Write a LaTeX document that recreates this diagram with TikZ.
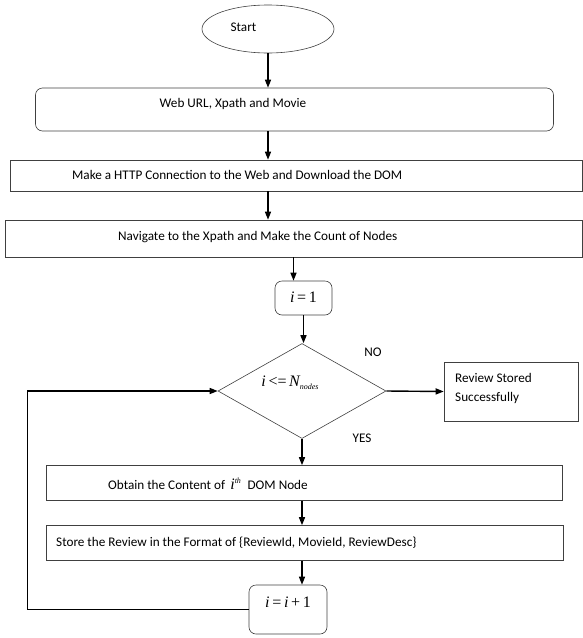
\documentclass[tikz,border=0pt]{standalone}
\usepackage{fontspec}
\setmainfont{Carlito}
\newfontfamily\tnr{Liberation Serif}
\usetikzlibrary{shapes.geometric,arrows.meta,calc}
\newcommand{\mi}[1]{{\tnr\itshape #1}}
\newcommand{\mr}[1]{{\tnr #1}}
\begin{document}
\begin{tikzpicture}[x=1pt,y=-1pt,
  box/.style={draw=black!75,line width=0.6pt,inner sep=0pt},
  rbox/.style={box,rounded corners=7pt},
  txt/.style={inner sep=0pt,font=\fontsize{13.2}{15}\selectfont},
  mth/.style={inner sep=0pt,font=\fontsize{16}{18}\selectfont},
  conn/.style={line width=1.4pt,-{Triangle[length=8pt,width=6pt]}}]
\useasboundingbox (0,0) rectangle (582,638);
% shapes
\node[ellipse,box,minimum width=132pt,minimum height=48pt] (start) at (268,29) {};
\node[rbox,minimum width=518pt,minimum height=43pt] (b1) at (294.5,109.5) {};
\node[box,minimum width=572pt,minimum height=31pt] (b2) at (296,175.5) {};
\node[box,minimum width=577pt,minimum height=37pt] (b3) at (293.5,238.5) {};
\node[rbox,minimum width=57pt,minimum height=34pt] (i1) at (303.5,298) {};
\node[diamond,box,minimum width=168pt,minimum height=95pt,aspect=1.77] (dia) at (302,391) {};
\node[box,minimum width=134pt,minimum height=59pt] (rev) at (511,391.5) {};
\node[box,minimum width=516pt,minimum height=35pt] (ob) at (304,483) {};
\node[box,minimum width=517pt,minimum height=35pt] (st) at (304.5,543) {};
\node[rbox,minimum width=78pt,minimum height=49pt] (inc) at (288,609.5) {};
\coordinate (lc) at (27,391);
% texts
\node[txt] (tstart) at (243.5,27) {Start};
\node[txt] (t1) at (233,104) {Web URL, Xpath and Movie};
\node[txt,anchor=west] (t2) at (72,175) {Make a HTTP Connection to the Web and Download the DOM};
\node[txt,anchor=west] (t3) at (118,237) {Navigate to the Xpath and Make the Count of Nodes};
\node[mth] (ti1) at (303.5,297) {\mi{i}\,\mr{=}\,\mr{1}};
\node[mth] (tdia) at (290,383) {\mi{i}\,\mr{<=}\,\mi{N}\raisebox{-3pt}{\fontsize{8}{8}\selectfont\mi{nodes}}};
\node[txt] (tno) at (373,352) {NO};
\node[txt] (tyes) at (362,438) {YES};
\node[txt,anchor=west,align=left] (trev) at (455,388) {Review Stored\\[4pt]Successfully};
\node[txt,anchor=west] (tob) at (108,484) {Obtain the Content of \,{\fontsize{16}{18}\selectfont\mi{i}}\raisebox{6pt}{\fontsize{8}{8}\selectfont\mi{th}}\; DOM Node};
\node[txt,anchor=west] (tst) at (56,543) {Store the Review in the Format of \{ReviewId, MovieId, ReviewDesc\}};
\node[mth] (tinc) at (288,602) {\mi{i}\,\mr{=}\,\mi{i}\,\mr{+}\,\mr{1}};
% connectors
\draw[conn] (start.south) -- (start.south |- b1.north);
\draw[conn] (start.south |- b1.south) -- (start.south |- b2.north);
\draw[conn] (start.south |- b2.south) -- (start.south |- b3.north);
\draw[conn] (b3.south) -- (b3.south |- i1.north);
\draw[conn] (i1.south) -- (i1.south |- dia.north);
\draw[conn] (dia.east) -- (rev.west);
\draw[conn] (dia.south) -- (dia.south |- ob.north);
\draw[conn] (dia.south |- ob.south) -- (dia.south |- st.north);
\draw[conn] (dia.south |- st.south) -- (dia.south |- inc.north);
\draw[line width=0.9pt] (inc.west) -| (lc);
\draw[conn] (lc) -- (dia.west);
\end{tikzpicture}
\end{document}
